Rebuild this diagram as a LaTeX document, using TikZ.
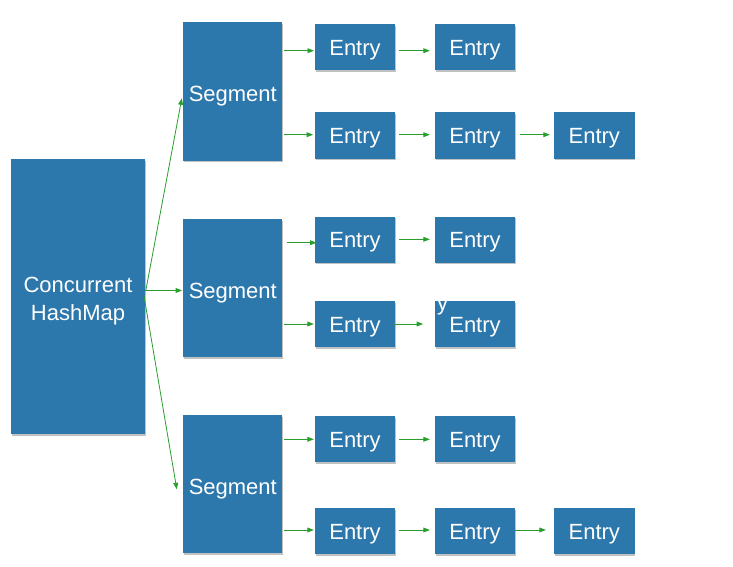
\documentclass[tikz,border=0pt]{standalone}
\usepackage{fontspec}
\setmainfont{Liberation Sans}
\usetikzlibrary{arrows.meta,shadows,calc}
\definecolor{boxblue}{RGB}{44,119,172}
\definecolor{arrgreen}{RGB}{40,158,45}
\begin{document}
\begin{tikzpicture}[x=1pt,y=-1pt,
  box/.style={fill=boxblue, draw=none, text=white, font=\fontsize{22}{28.6}\selectfont, inner sep=0pt,
    drop shadow={shadow xshift=0.8pt, shadow yshift=-1.6pt, opacity=0.35, fill=black!70}},
  seg/.style={box, minimum width=99pt, minimum height=138pt, text height=20.4pt, text depth=0pt},
  ent/.style={box, minimum width=80.5pt, minimum height=46pt, text height=16.2pt, text depth=0pt},
  arr/.style={draw=arrgreen, line width=0.8pt, -{Triangle[length=6.5pt,width=4.8pt]}}]
\useasboundingbox (0,0) rectangle (733,567);
% main node
\node[box, align=center, minimum width=134pt, minimum height=275pt] (chm) at (78,296.5) {\rule{0pt}{24.4pt}Concurrent\\HashMap};
% segments
\node[seg] (s1) at (232.8,91.5) {Segment};
\node[seg] (s2) at (232.8,288) {Segment};
\node[seg] (s3) at (232.8,484) {Segment};
% entries
\node[ent] (e11) at (355,47) {Entry};
\node[ent] (e12) at (475,47) {Entry};
\node[ent] (e21) at (355,135.5) {Entry};
\node[ent] (e22) at (475,135.5) {Entry};
\node[ent] (e23) at (594.3,135.5) {Entry};
\node[ent] (e31) at (355,239.7) {Entry};
\node[ent] (e32) at (475,239.7) {Entry};
\node[ent] (e41) at (355,324) {Entry};
\node[ent] (e42) at (475,324) {Entry};
\node[ent] (e51) at (355,439) {Entry};
\node[ent] (e52) at (475,439) {Entry};
\node[ent] (e61) at (355,531) {Entry};
\node[ent] (e62) at (475,531) {Entry};
\node[ent] (e63) at (594.3,531) {Entry};
% stray label
\node[text=white, font=\fontsize{22}{26}\selectfont, inner sep=0pt, anchor=base west] (ylab) at (437,310.8) {y};
% arrows from main node
\draw[arr] ($(chm.east |- 0,290)+(0.7,0)$) -- ($(s1.west |- 0,98.3)+(-1.3,0)$);
\draw[arr] (chm.east |- 0,290.5) -- ($(s2.west |- 0,290.5)+(-1,0)$);
\draw[arr] ($(chm.east |- 0,293)+(-1.7,0)$) -- ($(s3.west |- 0,489.3)+(-6.3,0)$);
% segment 1
\draw[arr] ($(s1.east |- 0,50.7)+(1,0)$) -- ($(e11.west |- 0,50.7)+(-0.5,0)$);
\draw[arr] ($(e11.east |- 0,50.7)+(4,0)$) -- ($(e12.west |- 0,50.7)+(-4.7,0)$);
\draw[arr] ($(s1.east |- 0,134.7)+(1,0)$) -- ($(e21.west |- 0,134.7)+(-1.4,0)$);
\draw[arr] ($(e21.east |- 0,134.7)+(4,0)$) -- ($(e22.west |- 0,134.7)+(-4.7,0)$);
\draw[arr] ($(e22.east |- 0,134.7)+(4.7,0)$) -- ($(e23.west |- 0,134.7)+(-4,0)$);
% segment 2
\draw[arr] ($(s2.east |- 0,242.7)+(4.4,0)$) -- ($(e31.west |- 0,242.7)+(2,0)$);
\draw[arr] ($(e31.east |- 0,239.3)+(4,0)$) -- ($(e32.west |- 0,239.3)+(-4.7,0)$);
\draw[arr] ($(s2.east |- 0,324)+(1,0)$) -- ($(e41.west |- 0,324)+(-0.7,0)$);
\draw[arr] ($(e41.east |- 0,324)+(-2,0)$) -- ($(e42.west |- 0,324)+(-11.4,0)$);
% segment 3
\draw[arr] ($(s3.east |- 0,439.3)+(1,0)$) -- ($(e51.west |- 0,439.3)+(-0.7,0)$);
\draw[arr] ($(e51.east |- 0,439.3)+(4,0)$) -- ($(e52.west |- 0,439.3)+(-4.7,0)$);
\draw[arr] ($(s3.east |- 0,530)+(1,0)$) -- ($(e61.west |- 0,530)+(-0.7,0)$);
\draw[arr] ($(e61.east |- 0,530)+(4,0)$) -- ($(e62.west |- 0,530)+(-4.7,0)$);
\draw[arr] (e62.east |- 0,530) -- ($(e63.west |- 0,530)+(-8,0)$);
\end{tikzpicture}
\end{document}
